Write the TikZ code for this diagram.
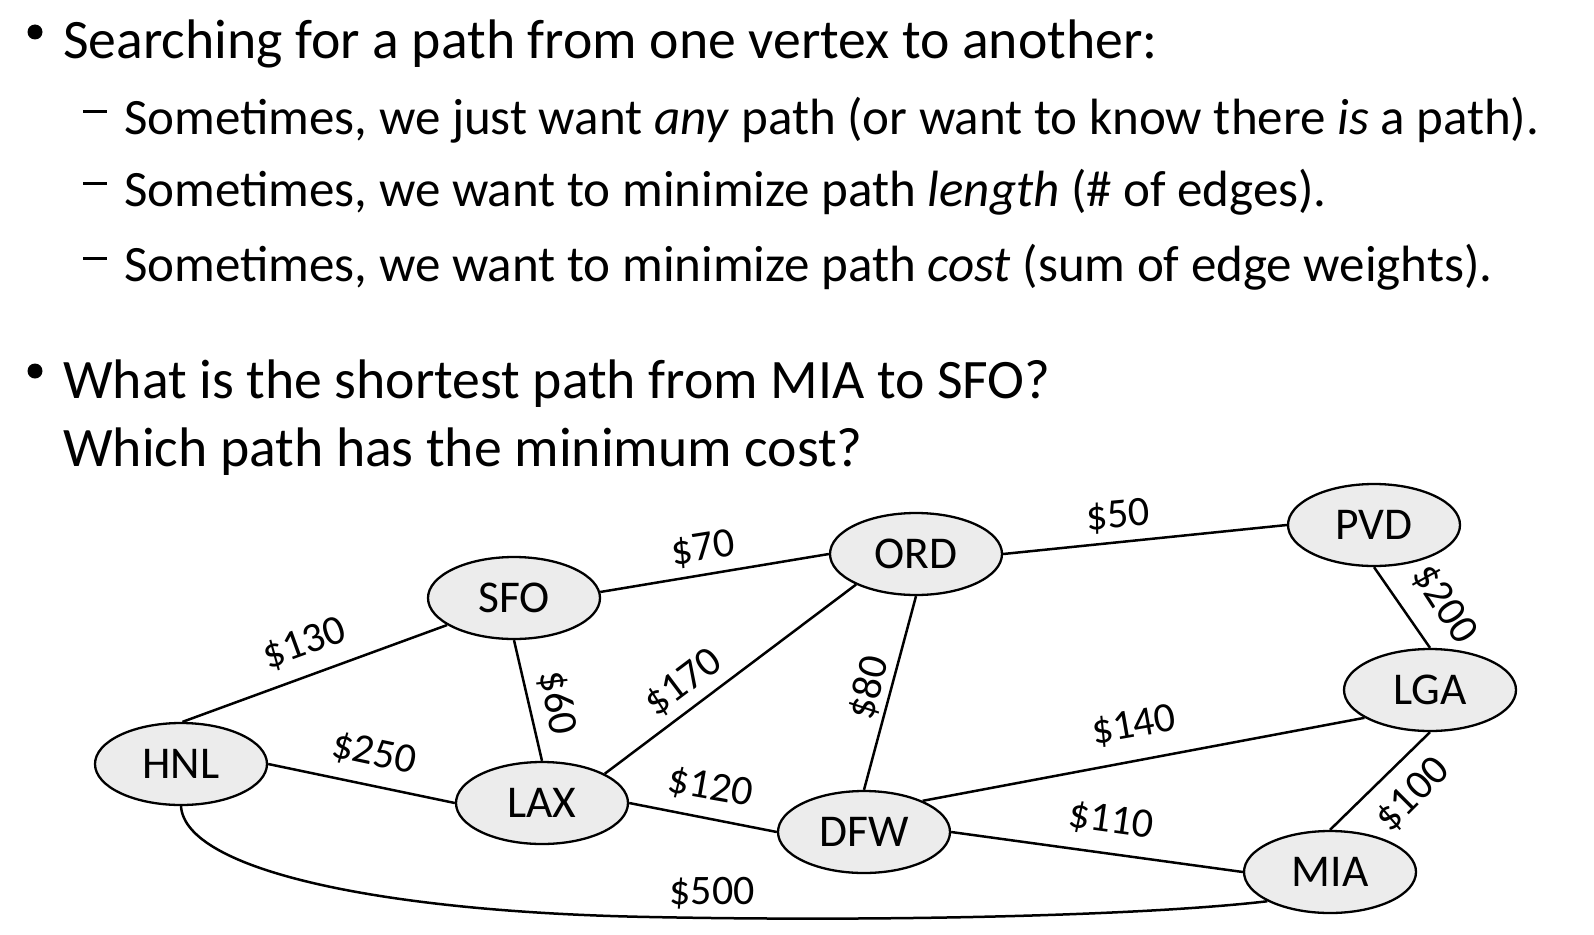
\documentclass[tikz,border=0pt]{standalone}
\usepackage{fontspec}
\setmainfont{Carlito}
\usetikzlibrary{shapes.geometric}
\begin{document}
\begin{tikzpicture}[x=1pt,y=-1pt,
  vert/.style={ellipse, draw=black, line width=2.3pt, fill=gray!15, minimum width=172pt, minimum height=82pt, inner sep=0pt, font=\fontsize{45.5}{52}\selectfont},
  cost/.style={inner sep=0pt, font=\fontsize{42}{48}\selectfont},
  link/.style={line width=2.5pt},
  lvlone/.style={anchor=base west, inner sep=0pt, font=\fontsize{55.7}{66}\selectfont},
  lvltwo/.style={anchor=base west, inner sep=0pt, font=\fontsize{51}{60}\selectfont},
  bul/.style={circle, fill=black, minimum size=15pt, inner sep=0pt},
  dsh/.style={rectangle, fill=black, minimum width=24pt, minimum height=3pt, inner sep=0pt}]
\useasboundingbox (0,0) rectangle (1594,934);
\fill[white] (0,0) rectangle (1594,934);

% text
\node[bul] (b1) at (35,32) {};
\node[lvlone] (t1) at (63,59) {Searching for a path from one vertex to another:};
\node[dsh] (d2) at (95,111) {};
\node[lvltwo] (t2) at (124,134) {Sometimes, we just want \textit{any} path (or want to know there \textit{is} a path).};
\node[dsh] (d3) at (95,183) {};
\node[lvltwo] (t3) at (124,206) {Sometimes, we want to minimize path \textit{length} (\# of edges).};
\node[dsh] (d4) at (95,258) {};
\node[lvltwo] (t4) at (124,281) {Sometimes, we want to minimize path \textit{cost} (sum of edge weights).};
\node[bul] (b5) at (35,371) {};
\node[lvlone] (t5) at (63,398) {What is the shortest path from MIA to SFO?};
\node[lvlone] (t6) at (63,466) {Which path has the minimum cost?};

% vertices
\node[vert] (HNL) at (181,764) {HNL};
\node[vert] (SFO) at (514,598) {SFO};
\node[vert] (LAX) at (542,803) {LAX};
\node[vert] (ORD) at (916,554) {ORD};
\node[vert] (DFW) at (864,832) {DFW};
\node[vert] (PVD) at (1374,525) {PVD};
\node[vert] (LGA) at (1430,690) {LGA};
\node[vert] (MIA) at (1330,872) {MIA};

% edges
\coordinate (low) at (650,917);
\draw[link] (HNL.88) -- (SFO.202);
\draw[link] (HNL.east) -- (LAX.west);
\draw[link] (HNL.south) .. controls (185,870) and (380,912) .. (low) .. controls (900,922) and (1150,915) .. (MIA.205);
\draw[link] (SFO.4) -- (ORD.west);
\draw[link] (SFO.south) -- (LAX.north);
\draw[link] (LAX.25) -- (ORD.207);
\draw[link] (LAX.east) -- (DFW.west);
\draw[link] (ORD.south) -- (DFW.north);
\draw[link] (ORD.east) -- (PVD.west);
\draw[link] (PVD.south) -- (LGA.north);
\draw[link] (DFW.28) -- (LGA.203);
\draw[link] (DFW.east) -- (MIA.west);
\draw[link] (LGA.south) -- (MIA.north);

% labels
\node[cost, rotate=20] (c1) at (305,644) {\$130};
\node[cost, rotate=-12] (c2) at (374,754) {\$250};
\node[cost] (c3) at (712,893) {\$500};
\node[cost, rotate=9] (c4) at (703,549) {\$70};
\node[cost, rotate=-79] (c5) at (557,703) {\$60};
\node[cost, rotate=37] (c6) at (684,683) {\$170};
\node[cost, rotate=-10] (c7) at (710,788) {\$120};
\node[cost, rotate=76] (c8) at (869,688) {\$80};
\node[cost, rotate=5] (c9) at (1118,516) {\$50};
\node[cost, rotate=-57] (c10) at (1444,604) {\$200};
\node[cost, rotate=10] (c11) at (1134,726) {\$140};
\node[cost, rotate=-8] (c12) at (1111,821) {\$110};
\node[cost, rotate=45] (c13) at (1413,795) {\$100};
\end{tikzpicture}
\end{document}
